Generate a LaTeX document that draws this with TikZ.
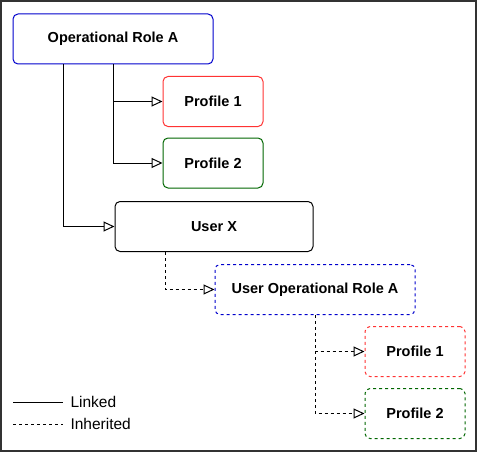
\documentclass[tikz,border=0pt]{standalone}
\usepackage{fontspec}
\setmainfont{Liberation Sans}
\usetikzlibrary{calc,arrows.meta}

\definecolor{roleblue}{HTML}{0000CC}
\definecolor{profred}{HTML}{FF3333}
\definecolor{profgreen}{HTML}{006600}
\definecolor{framegray}{HTML}{333333}

\tikzset{
  box/.style={draw,rounded corners=5pt,line width=1pt,minimum width=200pt,minimum height=50pt,font=\bfseries\fontsize{14.5pt}{16pt}\selectfont},
  profbox/.style={box,minimum width=100pt},
  inh/.style={dashed,dash pattern=on 3pt off 3pt},
  link/.style={line width=1pt,-{Triangle[open,length=11pt,width=10pt]}},
  legtext/.style={right,inner sep=0pt,xshift=7pt,font=\fontsize{15.5pt}{17pt}\selectfont},
}

\begin{document}
\begin{tikzpicture}[x=1pt,y=-1pt]
    \draw[framegray,line width=2pt] (1,1) rectangle (476,451);
    \useasboundingbox (0,0) rectangle (477,452);

    \node[box,draw=roleblue] at (113,39) (ORA) {Operational Role A};
    \node[profbox,draw=profred] at (213,101.5) (OP1) {Profile 1};
    \node[profbox,draw=profgreen] at (213,163) (OP2) {Profile 2};
    \node[box,minimum width=198pt] at (214,226.5) (UX) {User X};
    \node[box,draw=roleblue,inh] at (315,289.5) (UORA) {User Operational Role A};
    \node[profbox,draw=profred,inh] at (415,351.5) (UP1) {Profile 1};
    \node[profbox,draw=profgreen,inh] at (415,413.5) (UP2) {Profile 2};

    \draw[link] (ORA.south) |- (OP1);
    \draw[link] (ORA.south) |- (OP2);
    \draw[link] ($(ORA.south)+(-50,0)$) |- (UX);
    \draw[link,inh] ($(UX.south)+(-49,0)$) |- (UORA);
    \draw[link,inh] (UORA.south) |- (UP1);
    \draw[link,inh] (UORA.south) |- (UP2);

    % legend
    \coordinate (lin1) at (13,402);
    \coordinate (lin2) at (63,402);
    \coordinate (inh1) at (13,424);
    \coordinate (inh2) at (63,424);
    \draw[line width=1pt] (lin1) -- (lin2) node[legtext] (Linked) {Linked};
    \draw[line width=1pt,inh] (inh1) -- (inh2) node[legtext] (Inherited) {Inherited};
\end{tikzpicture}
\end{document}
